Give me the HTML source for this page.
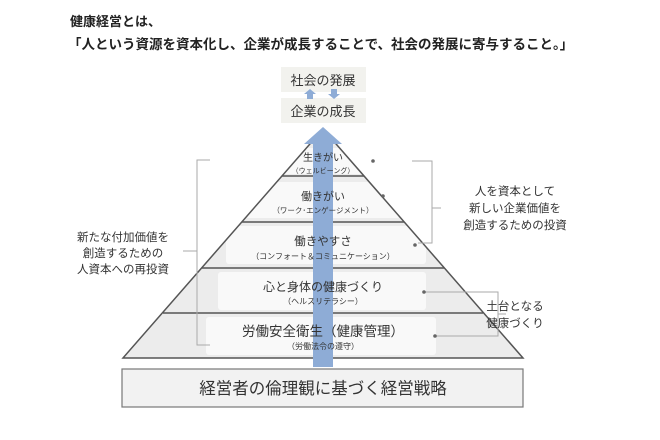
<!DOCTYPE html>
<html><head><meta charset="utf-8"><style>
body{margin:0;background:#fff;}
svg{display:block;font-family:"Liberation Sans","Noto Sans CJK JP",sans-serif;}
</style></head><body>
<svg width="660" height="440" viewBox="0 0 660 440" xmlns="http://www.w3.org/2000/svg">
<defs><clipPath id="pyr"><polygon points="323,129 523,358 123,358"/></clipPath></defs>
<text x="70" y="26" font-size="13" font-weight="bold" fill="#222">健康経営とは、</text>
<text x="68" y="49" font-size="13.5" font-weight="bold" fill="#222">「人という資源を資本化し、企業が成長することで、社会の発展に寄与すること。」</text>

<polygon points="323,129 523,358 123,358" fill="#ececec"/>
<g fill="#f9f9f9" clip-path="url(#pyr)">
<rect x="270" y="148" width="106" height="26" rx="3"/>
<rect x="246" y="182" width="154" height="36" rx="3"/>
<rect x="226" y="226" width="200" height="38" rx="3"/>
<rect x="218" y="272" width="208" height="38" rx="3"/>
<rect x="206" y="317" width="230" height="38" rx="3"/>
</g>
<polygon points="323,129 523,358 123,358" fill="none" stroke="#555" stroke-width="1.5"/>
<g stroke="#555" stroke-width="1.5">
<line x1="282" y1="176" x2="364" y2="176"/>
<line x1="242" y1="222" x2="404" y2="222"/>
<line x1="202" y1="268" x2="444" y2="268"/>
<line x1="163" y1="313" x2="483" y2="313"/>
</g>

<rect x="122" y="369" width="401" height="38" fill="#f2f2f2" stroke="#777" stroke-width="1.2"/>
<text x="323" y="394" font-size="16.5" text-anchor="middle" fill="#333">経営者の倫理観に基づく経営戦略</text>

<rect x="313" y="143" width="20" height="224" fill="#8eacd6"/>
<polygon points="323,127 342,144 304,144" fill="#8eacd6"/>

<rect x="281" y="67" width="85" height="25" fill="#f2f2ee"/>
<rect x="281" y="98" width="85" height="25" fill="#f2f2ee"/>
<text x="323" y="85" font-size="13" text-anchor="middle" fill="#333">社会の発展</text>
<text x="323" y="116" font-size="13" text-anchor="middle" fill="#333">企業の成長</text>
<polygon points="310,89 316,94 313,94 313,99 307,99 307,94 304,94" fill="#8eacd6"/>
<polygon points="334,99 340,94 337,94 337,89 331,89 331,94 328,94" fill="#8eacd6"/>

<g fill="#333" text-anchor="middle">
<text x="323" y="161" font-size="10">生きがい</text>
<text x="323" y="173" font-size="7">（ウェルビーング）</text>
<text x="323" y="200" font-size="11">働きがい</text>
<text x="323" y="213" font-size="7.5">（ワーク･エンゲージメント）</text>
<text x="323" y="245" font-size="11.5">働きやすさ</text>
<text x="323" y="259" font-size="8">（コンフォート＆コミュニケーション）</text>
<text x="323" y="291" font-size="12">心と身体の健康づくり</text>
<text x="323" y="304" font-size="8">（ヘルスリテラシー）</text>
<text x="323" y="336" font-size="13.5">労働安全衛生（健康管理）</text>
<text x="323" y="349" font-size="8">（労働法令の遵守）</text>
</g>

<g stroke="#aaa" stroke-width="1" fill="none">
<path d="M210,160 H197 V345 H210"/>
<line x1="183" y1="251" x2="197" y2="251"/>
<path d="M412,161 H432 V243 H418"/>
<line x1="432" y1="208" x2="441" y2="208"/>
<path d="M424,292 H498 V336 H435"/>
<line x1="498" y1="314" x2="506" y2="314"/>
</g>
<g fill="#666">
<circle cx="373" cy="161" r="1.8"/><circle cx="383" cy="196" r="1.8"/><circle cx="415" cy="245" r="1.8"/>
<circle cx="424" cy="292" r="1.8"/><circle cx="435" cy="336" r="1.8"/>
</g>

<g fill="#333" font-size="11.5" text-anchor="middle">
<text x="123" y="241">新たな付加価値を</text>
<text x="123" y="257">創造するための</text>
<text x="123" y="273">人資本への再投資</text>
<text x="515" y="195">人を資本として</text>
<text x="515" y="212">新しい企業価値を</text>
<text x="515" y="229">創造するための投資</text>
<text x="515" y="310">土台となる</text>
<text x="515" y="327">健康づくり</text>
</g>
</svg>
</body></html>
